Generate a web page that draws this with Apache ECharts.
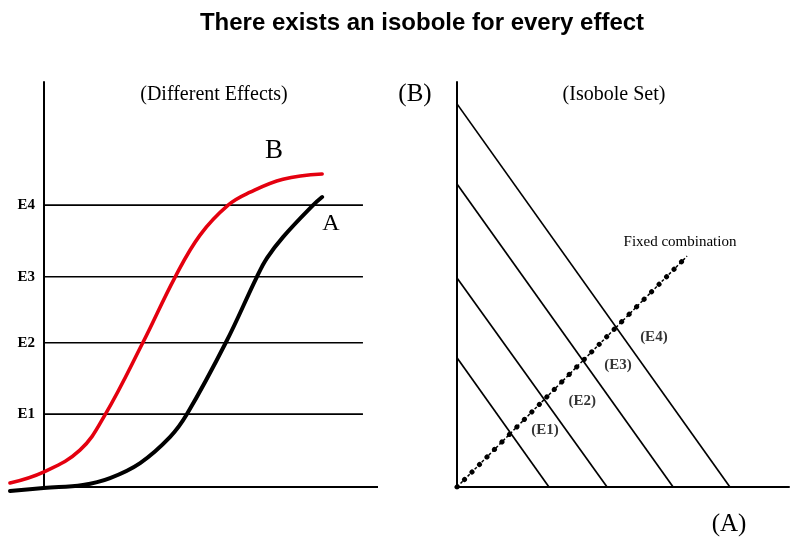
<!DOCTYPE html>
<html>
<head>
<meta charset="utf-8">
<script src="https://cdn.jsdelivr.net/npm/echarts@6/dist/echarts.min.js"></script>
<style>html,body{margin:0;padding:0;background:#fff;}#c{width:800px;height:545px;}</style>
</head>
<body>
<div id="c"></div>
<script>
// ---- Left panel: dose-response curves (x: dose units, y: effect %) ----
const curveB_x = [-1.0, 0, 1.09, 1.84, 2.98, 3.94, 4.68, 5.52, 6.18, 7.16, 8.33];
const curveB_y = [0.99, 3.7, 9.1, 17.8, 35.8, 51.9, 62.2, 69.6, 72.8, 76.0, 77.3];
const curveA_x = [-1.0, 0, 1.18, 1.99, 2.89, 3.78, 4.29, 5.46, 6.38, 6.68, 7.16, 8.06, 8.33];
const curveA_y = [-1.0, -0.25, 0.5, 2.2, 5.9, 12.3, 18.0, 35.8, 51.9, 56.5, 61.7, 69.6, 71.6];
const effectNames = ['E1', 'E2', 'E3', 'E4'];
const effectLevels = [18.0, 35.6, 51.9, 69.6];
const effectLineEnd = 9.55;
const doseAxisEnd = 10;

// ---- Right panel: isoboles (x: dose of A, y: dose of B) ----
const isoboleXIntercepts = [2.77, 4.52, 6.51, 8.22];
const isoboleYIntercepts = [31.9, 51.6, 74.8, 94.6];
const fixedRayEnd = [6.93, 57.0];
const isoboleLabels = ['(E1)', '(E2)', '(E3)', '(E4)'];
const isoboleLabelX = [2.65, 3.77, 4.85, 5.93];
const isoboleLabelY = [14.1, 21.2, 30.1, 37.0];

const zip = (xs, ys) => xs.map((x, i) => [x, ys[i]]);

const chart = echarts.init(document.getElementById('c'), null, {renderer: 'canvas'});

const axisLineStyle = {color: '#000', width: 2};
const serif = '"Liberation Serif", "Times New Roman", serif';

const series = [];
// dose axis baseline (starts at the effect axis, x = 0)
series.push({
  type: 'line', xAxisIndex: 0, yAxisIndex: 0, data: [[0, 0], [doseAxisEnd, 0]],
  symbol: 'none', silent: true, lineStyle: {color: '#000', width: 2}, z: 2
});
// horizontal effect lines
effectLevels.forEach((lv, i) => {
  series.push({
    type: 'line', xAxisIndex: 0, yAxisIndex: 0, name: effectNames[i],
    data: [[0, lv], [effectLineEnd, lv]], symbol: 'none', silent: true,
    lineStyle: {color: '#000', width: 1.6}, z: 1
  });
});
series.push({
  type: 'line', xAxisIndex: 0, yAxisIndex: 0, name: 'B', smooth: 0.4, clip: false,
  data: zip(curveB_x, curveB_y), symbol: 'none',
  lineStyle: {color: '#e4000f', width: 3.6, cap: 'round'}, z: 3
});
series.push({
  type: 'line', xAxisIndex: 0, yAxisIndex: 0, name: 'A', smooth: 0.4, clip: false,
  data: zip(curveA_x, curveA_y), symbol: 'none',
  lineStyle: {color: '#000', width: 4, cap: 'round'}, z: 3
});
// isoboles
isoboleXIntercepts.forEach((xi, i) => {
  series.push({
    type: 'line', xAxisIndex: 1, yAxisIndex: 1,
    data: [[0, isoboleYIntercepts[i]], [xi, 0]], symbol: 'none', silent: true,
    lineStyle: {color: '#000', width: 1.7}, z: 2
  });
});
// fixed combination ray: thin dashes + dots
series.push({
  type: 'line', xAxisIndex: 1, yAxisIndex: 1,
  data: [[0, 0], fixedRayEnd], symbol: 'none', silent: true,
  lineStyle: {color: '#000', width: 1.5, type: [3, 2]}, z: 3
});
series.push({
  type: 'line', xAxisIndex: 1, yAxisIndex: 1,
  data: [[0, 0], fixedRayEnd], symbol: 'none', silent: true,
  lineStyle: {color: '#000', width: 5, type: [0.1, 10.5], cap: 'round'}, z: 4
});
// isobole labels
series.push({
  type: 'scatter', xAxisIndex: 1, yAxisIndex: 1, symbolSize: 0, silent: true,
  data: isoboleLabels.map((t, i) => ({value: [isoboleLabelX[i], isoboleLabelY[i]], name: t})),
  label: {show: true, position: 'inside', formatter: p => p.name,
          fontFamily: serif, fontWeight: 'bold', fontSize: 15, color: '#000'}
});

const txt = (text, x, y, size, family, weight) => ({
  type: 'text', x: x, y: y, silent: true,
  style: {text: text, fill: '#000', font: (weight || 'normal') + ' ' + size + 'px ' + family,
          align: 'center', verticalAlign: 'middle', textAlign: 'center', textVerticalAlign: 'middle'}
});

chart.setOption({
  backgroundColor: '#fff',
  animation: false,
  grid: [
    {left: 10, top: 82, width: 368, height: 405, containLabel: false, outerBoundsMode: 'none'},
    {left: 457, top: 82, width: 332, height: 405, containLabel: false, outerBoundsMode: 'none'}
  ],
  xAxis: [
    {type: 'value', gridIndex: 0, min: -1, max: doseAxisEnd, axisLine: {show: false},
     axisTick: {show: false}, axisLabel: {show: false}, splitLine: {show: false}},
    {type: 'value', gridIndex: 1, min: 0, max: 10, axisLine: {show: true, lineStyle: axisLineStyle},
     axisTick: {show: false}, axisLabel: {show: false}, splitLine: {show: false}}
  ],
  yAxis: [
    {type: 'value', gridIndex: 0, min: 0, max: 100,
     axisLine: {show: true, onZero: true, lineStyle: axisLineStyle},
     axisTick: {show: false}, splitLine: {show: false},
     axisLabel: {show: true, customValues: effectLevels, margin: -25,
       formatter: v => effectNames[effectLevels.indexOf(v)] || '',
       fontFamily: serif, fontWeight: 'bold', fontSize: 15, color: '#000'}},
    {type: 'value', gridIndex: 1, min: 0, max: 100, axisLine: {show: true, lineStyle: axisLineStyle},
     axisTick: {show: false}, axisLabel: {show: false}, splitLine: {show: false}}
  ],
  series: series,
  graphic: [
    txt('There exists an isobole for every effect', 422, 23, 24, '"Liberation Sans", Arial, sans-serif', 'bold'),
    txt('(Different Effects)', 214, 95, 20, serif),
    txt('(Isobole Set)', 614, 95, 20, serif),
    txt('(B)', 415, 94, 25, serif),
    txt('(A)', 729, 524, 25, serif),
    txt('B', 274, 151, 27, serif),
    txt('A', 331, 224, 24, serif),
    txt('Fixed combination', 680, 242, 15, serif)
  ]
});
</script>
</body>
</html>
